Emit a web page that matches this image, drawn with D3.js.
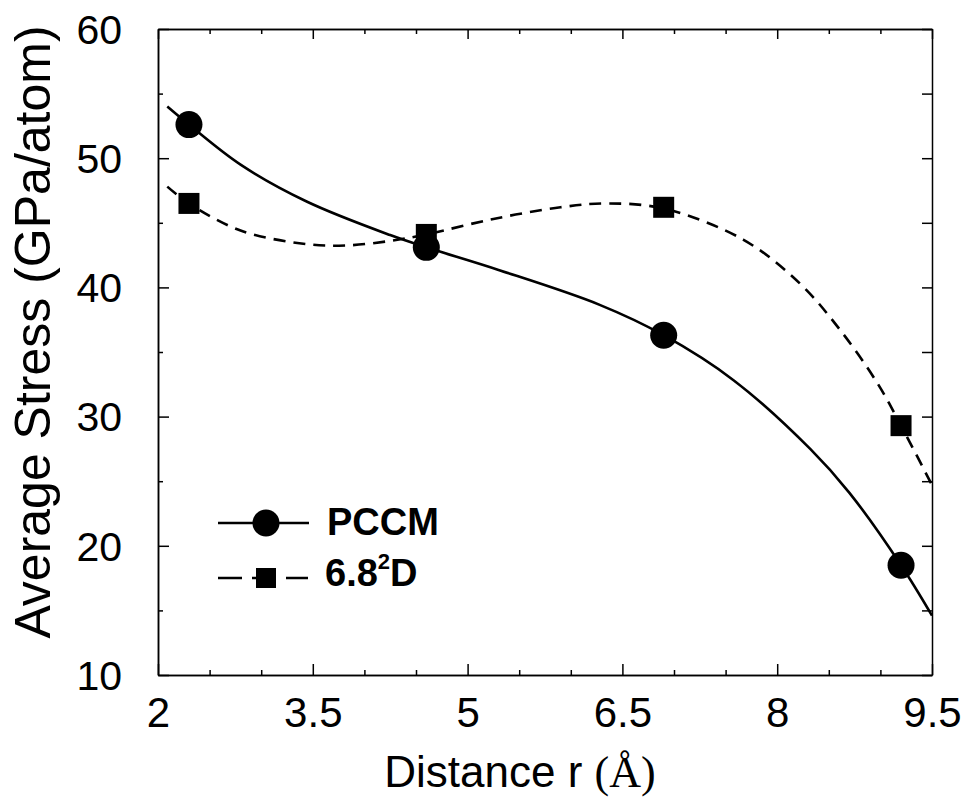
<!DOCTYPE html>
<html>
<head>
<meta charset="utf-8">
<script src="https://cdn.jsdelivr.net/npm/d3@7"></script>
<style>
  html, body { margin: 0; padding: 0; background: #fff; }
  svg { display: block; }
  text { font-family: "Liberation Sans", Arial, Helvetica, sans-serif; fill: #000; }
</style>
</head>
<body>
<svg id="chart" width="967" height="797"></svg>
<script>
// ---- data ----
const pccmX = [2.3, 4.6, 6.9, 9.2];
const pccmY = [52.6, 43.1, 36.3, 18.5];
const d2X = [2.3, 4.6, 6.9, 9.2];
const d2Y = [46.5, 44.1, 46.2, 29.3];

// fitted curves
const pccmCurveX = [2.09, 2.3, 2.8, 3.44, 4.25, 4.6, 5.3, 6.28, 6.9, 7.58, 8.32, 8.7, 9.2, 9.5];
const pccmCurveY = [54.0, 52.6, 49.5, 46.65, 44.05, 43.1, 41.35, 38.65, 36.3, 32.8, 27.5, 24.1, 18.5, 14.6];
const d2CurveX = [2.09, 2.3, 2.8, 3.44, 3.83, 4.25, 4.6, 5.25, 5.9, 6.35, 6.9, 7.67, 8.22, 8.61, 8.97, 9.2, 9.5];
const d2CurveY = [47.8, 46.5, 44.4, 43.35, 43.25, 43.6, 44.1, 45.3, 46.2, 46.5, 46.1, 43.7, 40.3, 36.7, 32.6, 29.3, 24.7];

const xTicks = [2, 3.5, 5, 6.5, 8, 9.5];
const xTickLabels = ["2", "3.5", "5", "6.5", "8", "9.5"];
const xMinor = [2.5, 3, 4, 4.5, 5.5, 6, 7, 7.5, 8.5, 9];
const yTicks = [10, 20, 30, 40, 50, 60];
const yMinor = [15, 25, 35, 45, 55];

const legendLabels = ["PCCM", "6.8", "2", "D"];

// ---- layout ----
const L = 158, R = 932, T = 29, B = 675;
const svg = d3.select("#chart");
const x = d3.scaleLinear().domain([2, 9.5]).range([L, R]);
const y = d3.scaleLinear().domain([10, 60]).range([B, T]);

const plot = svg.append("g");

// curves
const line = d3.line().x(d => x(d[0])).y(d => y(d[1])).curve(d3.curveCatmullRom.alpha(0.5));
plot.append("path")
  .attr("d", line(d3.zip(pccmCurveX, pccmCurveY)))
  .attr("fill", "none").attr("stroke", "#000").attr("stroke-width", 2.6);
plot.append("path")
  .attr("d", line(d3.zip(d2CurveX, d2CurveY)))
  .attr("fill", "none").attr("stroke", "#000").attr("stroke-width", 2.6)
  .attr("stroke-dasharray", "12,8");

// markers
plot.selectAll("circle.p").data(d3.zip(pccmX, pccmY)).join("circle")
  .attr("cx", d => x(d[0])).attr("cy", d => y(d[1])).attr("r", 13.5).attr("fill", "#000");
const sq = 21;
plot.selectAll("rect.s").data(d3.zip(d2X, d2Y)).join("rect")
  .attr("x", d => x(d[0]) - sq / 2).attr("y", d => y(d[1]) - sq / 2)
  .attr("width", sq).attr("height", sq).attr("fill", "#000");

// axes frame
const axes = svg.append("g");
const gBottom = axes.append("g").attr("transform", `translate(0,${B})`)
  .call(d3.axisBottom(x).tickValues(xTicks).tickSizeInner(-11).tickSizeOuter(0)
    .tickFormat((d, i) => xTickLabels[i]));
axes.append("g").attr("transform", `translate(0,${B})`)
  .call(d3.axisBottom(x).tickValues(xMinor).tickSizeInner(-5).tickSizeOuter(0).tickFormat(""));
axes.append("g").attr("transform", `translate(0,${T})`)
  .call(d3.axisTop(x).tickValues(xTicks).tickSizeInner(-10).tickSizeOuter(0).tickFormat(""));
axes.append("g").attr("transform", `translate(0,${T})`)
  .call(d3.axisTop(x).tickValues(xMinor).tickSizeInner(-5).tickSizeOuter(0).tickFormat(""));
const gLeft = axes.append("g").attr("transform", `translate(${L},0)`)
  .call(d3.axisLeft(y).tickValues(yTicks).tickSizeInner(-11).tickSizeOuter(0).tickFormat(d3.format("d")));
axes.append("g").attr("transform", `translate(${L},0)`)
  .call(d3.axisLeft(y).tickValues(yMinor).tickSizeInner(-5).tickSizeOuter(0).tickFormat(""));
axes.append("g").attr("transform", `translate(${R},0)`)
  .call(d3.axisRight(y).tickValues(yTicks.concat(yMinor)).tickSizeInner(-10).tickSizeOuter(0).tickFormat(""));

axes.selectAll(".domain").attr("stroke", "#000").attr("stroke-width", 1.5);
axes.selectAll(".tick line").attr("stroke", "#000").attr("stroke-width", 1.5);

gBottom.selectAll(".tick text")
  .attr("y", 0).attr("dy", 0)
  .attr("transform", "translate(0,52)")
  .style("font-size", "42px").style("font-family", "'Liberation Sans', Arial, sans-serif");
gLeft.selectAll(".tick text")
  .attr("x", -36).attr("dy", "0.35em")
  .style("font-size", "41px").style("font-family", "'Liberation Sans', Arial, sans-serif");

// axis titles
const xt = svg.append("text").attr("x", 520).attr("y", 787).attr("text-anchor", "middle")
  .style("font-size", "44px");
xt.append("tspan").text("Distance r ");
xt.append("tspan").style("font-family", "'Liberation Serif', 'Times New Roman', serif").text("(Å)");

svg.append("text").attr("transform", "translate(50,332) rotate(-90)")
  .attr("text-anchor", "middle").style("font-size", "50px")
  .text("Average Stress (GPa/atom)");

// legend
const lg = svg.append("g");
lg.append("line").attr("x1", 218).attr("x2", 309).attr("y1", 523).attr("y2", 523)
  .attr("stroke", "#000").attr("stroke-width", 2.6);
lg.append("circle").attr("cx", 266).attr("cy", 523).attr("r", 13.5).attr("fill", "#000");
lg.append("text").attr("x", 327).attr("y", 535).style("font-size", "38px").style("font-weight", "bold")
  .text(legendLabels[0]);

lg.append("line").attr("x1", 218).attr("x2", 308).attr("y1", 578).attr("y2", 578)
  .attr("stroke", "#000").attr("stroke-width", 2.6).attr("stroke-dasharray", "24,10");
lg.append("rect").attr("x", 266 - 10).attr("y", 578 - 10).attr("width", 20).attr("height", 20).attr("fill", "#000");
const lt = lg.append("text").attr("x", 325).attr("y", 586).style("font-size", "38px").style("font-weight", "bold");
lt.append("tspan").text(legendLabels[1]);
lt.append("tspan").attr("dy", -17).style("font-size", "22px").text(legendLabels[2]);
lt.append("tspan").attr("dy", 17).text(legendLabels[3]);
</script>
</body>
</html>
